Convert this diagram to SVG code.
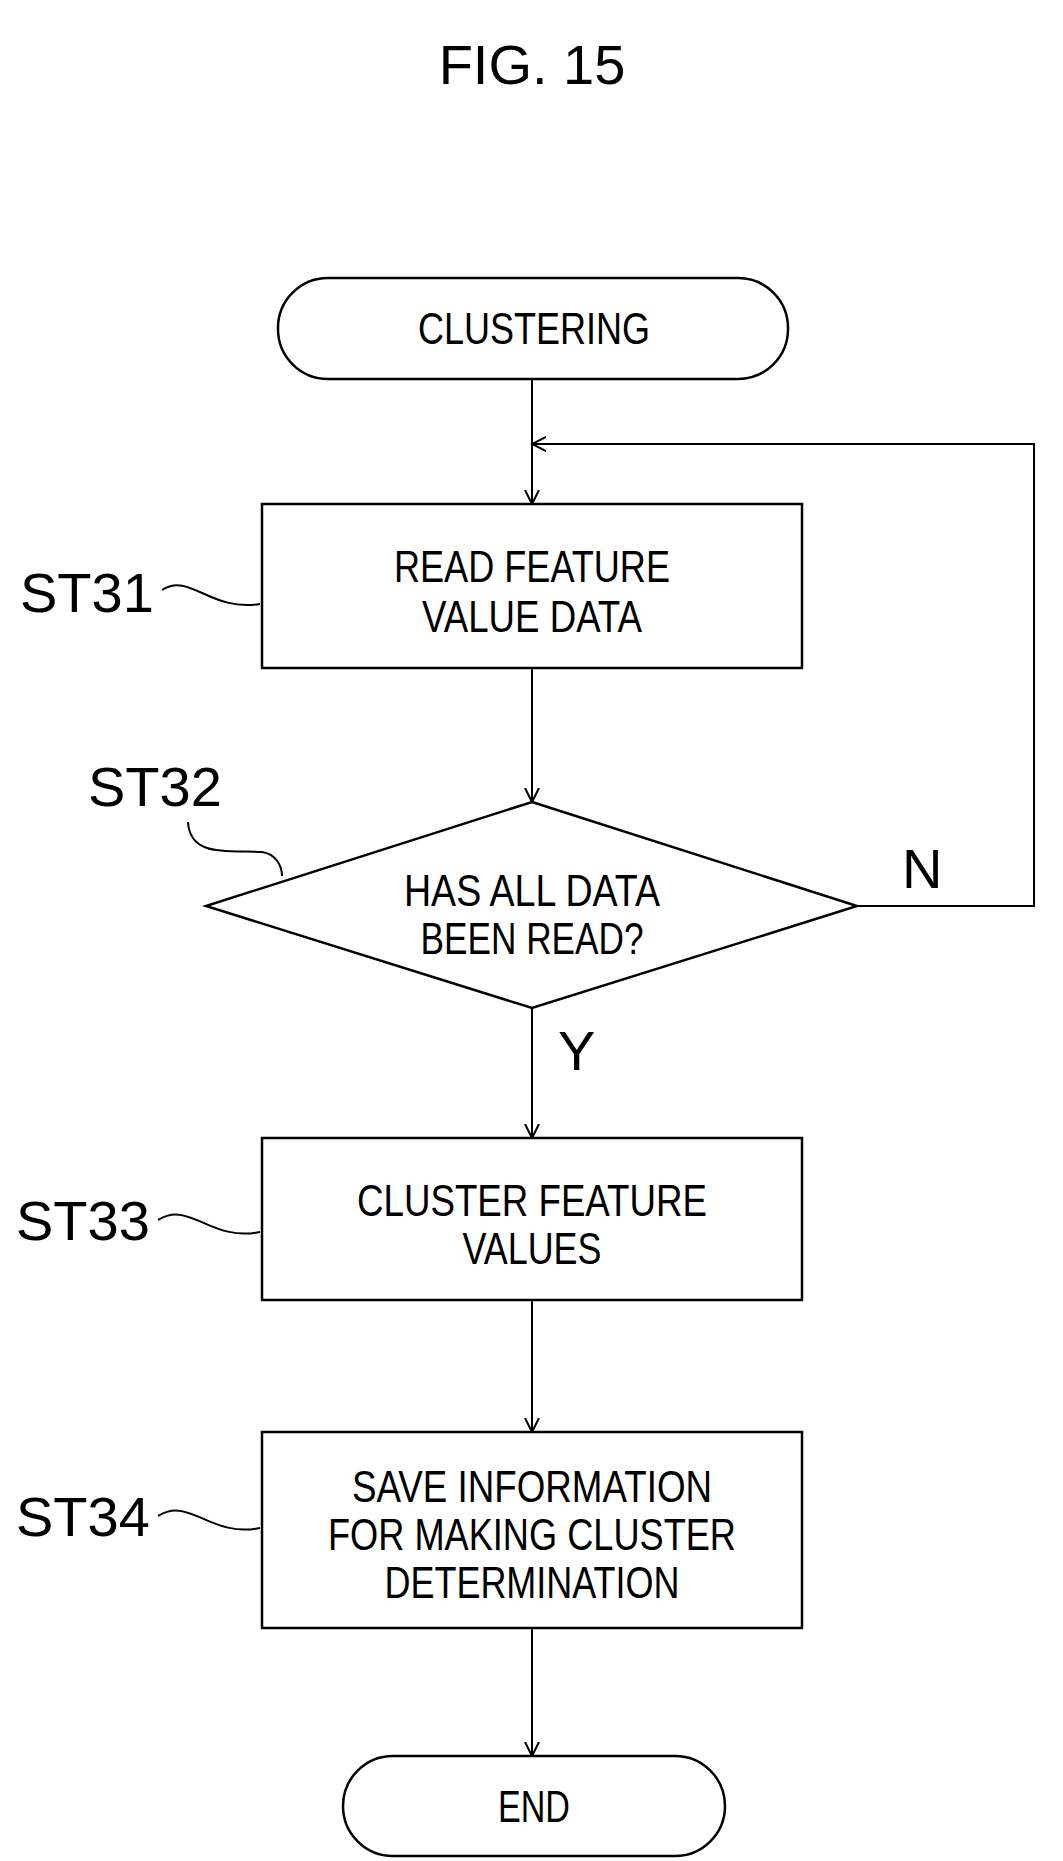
<svg xmlns="http://www.w3.org/2000/svg" width="1063" height="1861" viewBox="0 0 1063 1861">
<defs>
<marker id="ah" markerWidth="16" markerHeight="20" refX="14" refY="10" orient="auto" markerUnits="userSpaceOnUse">
<polyline points="0,3 14,10 0,17" fill="none" stroke="#000" stroke-width="2"/>
</marker>
<style>
.s{fill:#fff;stroke:#000;stroke-width:2.5}
.t{font-family:"Liberation Sans",Arial,sans-serif;font-size:44px;text-anchor:middle;fill:#000}
.l{font-family:"Liberation Sans",Arial,sans-serif;font-size:56px;fill:#000}
.c{fill:none;stroke:#000;stroke-width:2}
</style>
</defs>
<rect width="1063" height="1861" fill="#fff"/>
<text x="532" y="84" class="l" text-anchor="middle" font-size="78">FIG. 15</text>
<g id="connectors">
<line class="c" x1="532" y1="379" x2="532" y2="504" marker-end="url(#ah)"/>
<polyline class="c" points="857,906 1034,906 1034,444 532,444" marker-end="url(#ah)"/>
<line class="c" x1="532" y1="668" x2="532" y2="802" marker-end="url(#ah)"/>
<line class="c" x1="532" y1="1008" x2="532" y2="1138" marker-end="url(#ah)"/>
<line class="c" x1="532" y1="1300" x2="532" y2="1432" marker-end="url(#ah)"/>
<line class="c" x1="532" y1="1628" x2="532" y2="1756" marker-end="url(#ah)"/>
<text x="902" y="888" class="l" font-size="44">N</text>
<text x="558" y="1070" class="l" font-size="44">Y</text>
</g>
<g id="start">
<rect class="s" x="278" y="278" width="510" height="101" rx="50"/>
<text class="t" x="534" y="344" textLength="232" lengthAdjust="spacingAndGlyphs">CLUSTERING</text>
</g>
<g id="st31">
<rect class="s" x="262" y="504" width="540" height="164"/>
<text class="t" x="532" y="582" textLength="276" lengthAdjust="spacingAndGlyphs">READ FEATURE</text>
<text class="t" x="532" y="632" textLength="220" lengthAdjust="spacingAndGlyphs">VALUE DATA</text>
<text class="l" x="20" y="612">ST31</text>
<path class="c" d="M162,590 C190,572 210,612 260,604"/>
</g>
<g id="st32">
<polygon class="s" points="532,802 857,906 532,1008 206,906"/>
<text class="t" x="532" y="906" textLength="256" lengthAdjust="spacingAndGlyphs">HAS ALL DATA</text>
<text class="t" x="532" y="954" textLength="223" lengthAdjust="spacingAndGlyphs">BEEN READ?</text>
<text class="l" x="88" y="806">ST32</text>
<path class="c" d="M188,822 C190,858 230,850 262,852 C276,854 282,866 282,876"/>
</g>
<g id="st33">
<rect class="s" x="262" y="1138" width="540" height="162"/>
<text class="t" x="532" y="1216" textLength="350" lengthAdjust="spacingAndGlyphs">CLUSTER FEATURE</text>
<text class="t" x="532" y="1264" textLength="139" lengthAdjust="spacingAndGlyphs">VALUES</text>
<text class="l" x="16" y="1240">ST33</text>
<path class="c" d="M158,1220 C190,1200 210,1242 260,1232"/>
</g>
<g id="st34">
<rect class="s" x="262" y="1432" width="540" height="196"/>
<text class="t" x="532" y="1502" textLength="360" lengthAdjust="spacingAndGlyphs">SAVE INFORMATION</text>
<text class="t" x="532" y="1550" textLength="408" lengthAdjust="spacingAndGlyphs">FOR MAKING CLUSTER</text>
<text class="t" x="532" y="1598" textLength="295" lengthAdjust="spacingAndGlyphs">DETERMINATION</text>
<text class="l" x="16" y="1536">ST34</text>
<path class="c" d="M158,1516 C190,1496 210,1538 260,1528"/>
</g>
<g id="end">
<rect class="s" x="343" y="1756" width="382" height="100" rx="50"/>
<text class="t" x="534" y="1822" textLength="72" lengthAdjust="spacingAndGlyphs">END</text>
</g>
</svg>
